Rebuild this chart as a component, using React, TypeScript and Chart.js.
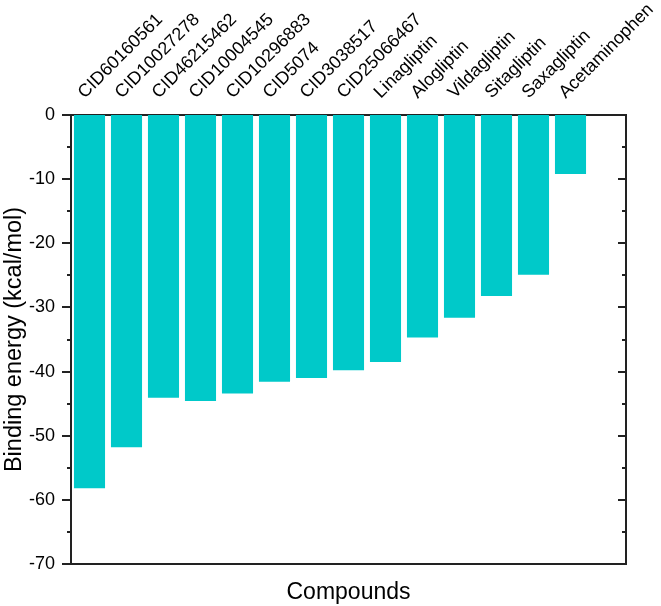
import React, { useEffect, useRef } from "react";
import { Chart, registerables } from "chart.js";

Chart.register(...registerables);

// Docking scores per compound (kcal/mol)
const compounds = [
  "CID60160561",
  "CID10027278",
  "CID46215462",
  "CID10004545",
  "CID10296883",
  "CID5074",
  "CID3038517",
  "CID25066467",
  "Linagliptin",
  "Alogliptin",
  "Vildagliptin",
  "Sitagliptin",
  "Saxagliptin",
  "Acetaminophen",
];
const bindingEnergy = [
  -58.2, -51.8, -44.1, -44.6, -43.4, -41.6, -41.0, -39.8, -38.5, -34.7, -31.6,
  -28.2, -24.9, -9.2,
];

// Y axis range and tick spacing
const yMin = -70;
const yMax = 0;
const yMajorStep = 10;
const yMinorStep = 5;

const FONT = "'Liberation Sans', Arial, Helvetica, sans-serif";
const AXIS_COLOR = "#222222";
const BAR_COLOR = "rgb(0, 201, 201)";

// One empty slot after the last compound leaves room before the right frame
const slotLabels = [...compounds, ""];
const slotValues: (number | null)[] = [...bindingEnergy, null];

const frameTicks = {
  id: "frameTicks",
  afterDraw(chart: any) {
    const { ctx, chartArea } = chart;
    const yScale = chart.scales.y;
    ctx.save();
    ctx.strokeStyle = AXIS_COLOR;
    ctx.lineWidth = 2;
    for (let v = yMin; v <= yMax; v += yMinorStep) {
      const py = Math.round(yScale.getPixelForValue(v));
      const major = v % yMajorStep === 0;
      // left axis: ticks point outward
      ctx.beginPath();
      ctx.moveTo(chartArea.left - (major ? 9 : 4), py);
      ctx.lineTo(chartArea.left, py);
      ctx.stroke();
      // right axis: ticks point inward
      ctx.beginPath();
      ctx.moveTo(chartArea.right, py);
      ctx.lineTo(chartArea.right - (major ? 8 : 4), py);
      ctx.stroke();
    }
    ctx.restore();
  },
};

export default function App() {
  const canvasRef = useRef<HTMLCanvasElement | null>(null);

  useEffect(() => {
    if (!canvasRef.current) return;
    const chart = new Chart(canvasRef.current, {
      type: "bar",
      data: {
        labels: slotLabels,
        datasets: [
          {
            data: slotValues,
            backgroundColor: BAR_COLOR,
            borderWidth: 0,
            barPercentage: 0.84,
            categoryPercentage: 1,
            xAxisID: "x",
            yAxisID: "y",
          },
        ],
      },
      options: {
        responsive: false,
        animation: false,
        layout: { padding: 0 },
        plugins: {
          legend: { display: false },
          tooltip: { enabled: false },
        },
        scales: {
          x: {
            type: "category",
            position: "top",
            offset: true,
            z: 1,
            grid: { display: false, drawTicks: false },
            border: { display: true, color: AXIS_COLOR, width: 2 },
            ticks: {
              autoSkip: false,
              minRotation: 45,
              maxRotation: 45,
              padding: 12,
              labelOffset: 7,
              color: "#000",
              font: { family: FONT, size: 18 },
            },
            afterFit(scale: any) {
              scale.height = 115;
              scale.paddingLeft = 0;
              scale.paddingRight = 0;
            },
          },
          x2: {
            type: "category",
            position: "bottom",
            labels: slotLabels,
            offset: true,
            z: 1,
            grid: { display: false, drawTicks: false },
            border: { display: true, color: AXIS_COLOR, width: 2 },
            ticks: { display: false },
            title: {
              display: true,
              text: "Compounds",
              color: "#000",
              padding: 0,
              font: { family: FONT, size: 23 },
            },
            afterFit(scale: any) {
              scale.height = 42;
              scale.paddingLeft = 0;
              scale.paddingRight = 0;
            },
          },
          y: {
            type: "linear",
            position: "left",
            min: yMin,
            max: yMax,
            z: 1,
            grid: { display: false, drawTicks: false },
            border: { display: true, color: AXIS_COLOR, width: 2 },
            ticks: {
              stepSize: yMajorStep,
              padding: 16,
              color: "#000",
              font: { family: FONT, size: 18 },
            },
            title: {
              display: true,
              text: "Binding energy (kcal/mol)",
              color: "#000",
              padding: 0,
              font: { family: FONT, size: 23.5 },
            },
            afterFit(scale: any) {
              scale.width = 71;
              scale.paddingTop = 0;
              scale.paddingBottom = 0;
            },
          },
          y2: {
            type: "linear",
            position: "right",
            min: yMin,
            max: yMax,
            z: 1,
            grid: { display: false, drawTicks: false },
            border: { display: true, color: AXIS_COLOR, width: 2 },
            ticks: { display: false },
            afterFit(scale: any) {
              scale.width = 35;
              scale.paddingTop = 0;
              scale.paddingBottom = 0;
            },
          },
        },
      },
      plugins: [frameTicks],
    });
    return () => chart.destroy();
  }, []);

  return (
    <div style={{ position: "fixed", left: 0, top: 0, width: 661, height: 606, background: "#fff" }}>
      <canvas ref={canvasRef} width={661} height={606} style={{ display: "block" }} />
    </div>
  );
}
